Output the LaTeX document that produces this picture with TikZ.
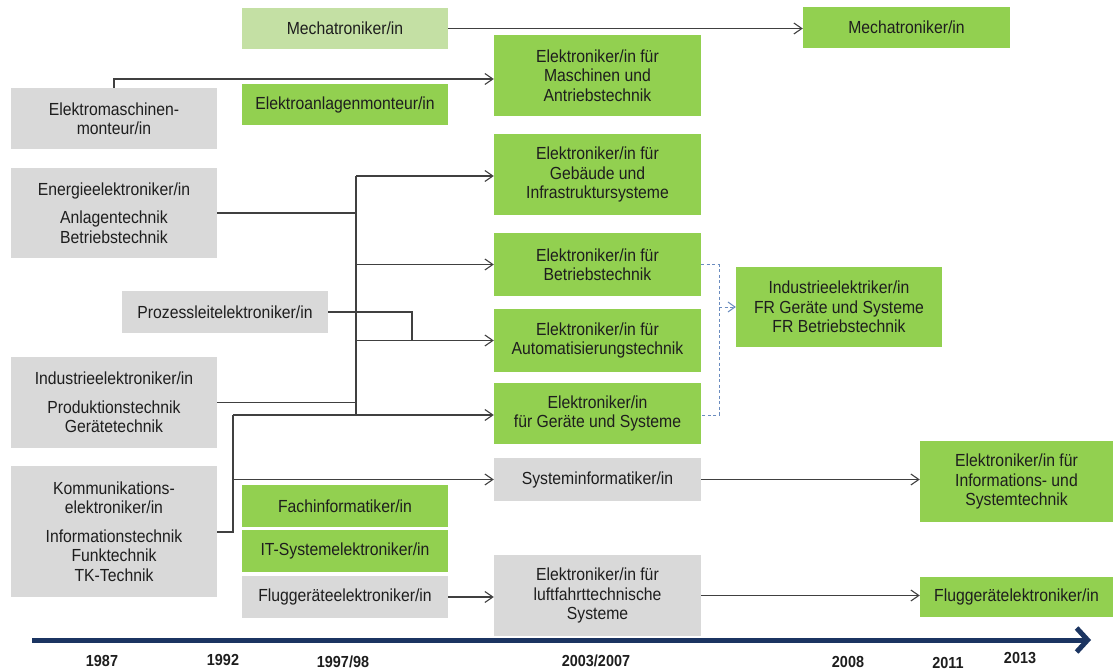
\documentclass[tikz,border=0pt]{standalone}
\usepackage{fontspec}
\setmainfont{Liberation Sans}[FakeStretch=0.9]
\usetikzlibrary{arrows.meta}
\definecolor{boxgreen}{HTML}{92D050}
\definecolor{lightgreen}{HTML}{C4E0A4}
\definecolor{boxgray}{HTML}{D9D9D9}
\definecolor{txt}{HTML}{1E1E1E}
\definecolor{linec}{HTML}{404040}
\definecolor{navy}{HTML}{1B3461}
\definecolor{dashc}{HTML}{6A8CBF}
\begin{document}
\begin{tikzpicture}[x=1pt,y=-1pt,
  box/.style={inner sep=0pt, minimum width=206pt, align=center, text=txt, font=\fontsize{17.5}{19.5}\selectfont},
  gbox/.style={box, fill=boxgreen},
  lbox/.style={box, fill=lightgreen},
  ybox/.style={box, fill=boxgray},
  conn/.style={draw=linec, line width=1.2pt},
  thickconn/.style={draw=linec, line width=2.6pt},
  arr/.style={conn, -{Straight Barb[length=8pt,width=11pt,line width=1.1pt]}},
  dashline/.style={draw=dashc, line width=1pt, dash pattern=on 3pt off 2.5pt},
  dasharr/.style={dashline, -{Straight Barb[length=7pt,width=10pt,line width=1pt]}},
  year/.style={font=\bfseries\fontsize{16}{18}\selectfont, text=txt, inner sep=0pt},
]
\useasboundingbox[fill=white] (0,0) rectangle (1114,671);

% boxes
\node[lbox, minimum height=41pt] (mechaL) at (345,28.5) {Mechatroniker/in};
\node[gbox, minimum width=207pt, minimum height=41pt] (mechaR) at (906.5,27.5) {Mechatroniker/in};
\node[gbox, minimum width=207pt, minimum height=81pt] (maschinen) at (597.5,75.5) {Elektroniker/in für\\Maschinen und\\Antriebstechnik};
\node[ybox, minimum height=61pt] (elmasch) at (114,118.5) {Elektromaschinen-\\monteur/in};
\node[gbox, minimum height=41pt] (elanlagen) at (345,104.5) {Elektroanlagenmonteur/in};
\node[gbox, minimum width=207pt, minimum height=81pt] (gebaeude) at (597.5,174.5) {Elektroniker/in für\\Gebäude und\\Infrastruktursysteme};
\node[ybox, minimum height=90pt] (energie) at (114,213) {Energieelektroniker/in\\[9pt]Anlagentechnik\\Betriebstechnik};
\node[gbox, minimum width=207pt, minimum height=63pt] (betrieb) at (597.5,264.5) {Elektroniker/in für\\Betriebstechnik};
\node[ybox, minimum height=42pt] (prozess) at (225,312) {Prozessleitelektroniker/in};
\node[gbox, minimum width=207pt, minimum height=63pt] (autom) at (597.5,340.5) {Elektroniker/in für\\Automatisierungstechnik};
\node[ybox, minimum height=91pt] (industrie) at (114,402.5) {Industrieelektroniker/in\\[9pt]Produktionstechnik\\Gerätetechnik};
\node[gbox, minimum width=207pt, minimum height=61pt] (geraete) at (597.5,413.5) {Elektroniker/in\\für Geräte und Systeme};
\node[gbox, minimum height=80pt] (indelektriker) at (839,307) {Industrieelektriker/in\\FR Geräte und Systeme\\FR Betriebstechnik};
\node[ybox, minimum height=131pt] (kommun) at (114,531.5) {Kommunikations-\\elektroniker/in\\[9pt]Informationstechnik\\Funktechnik\\TK-Technik};
\node[ybox, minimum width=207pt, minimum height=43pt] (sysinf) at (597.5,479.5) {Systeminformatiker/in};
\node[gbox, minimum width=193pt, minimum height=81pt] (infosys) at (1016.5,481.5) {Elektroniker/in für\\Informations- und\\Systemtechnik};
\node[gbox, minimum height=42pt] (fachinf) at (345,506) {Fachinformatiker/in};
\node[gbox, minimum height=42pt] (itsys) at (345,551) {IT-Systemelektroniker/in};
\node[ybox, minimum height=42pt] (flugg) at (345,597) {Fluggeräteelektroniker/in};
\node[ybox, minimum width=207pt, minimum height=81pt] (luftfahrt) at (597.5,595.5) {Elektroniker/in für\\luftfahrttechnische\\Systeme};
\node[gbox, minimum width=193pt, minimum height=40pt] (fluggR) at (1016.5,597) {Fluggerätelektroniker/in};

% junction coordinates
\coordinate (j1) at (114,79);
\coordinate (busT) at (356,176);
\coordinate (busB) at (356,415);
\coordinate (pz) at (412,312);
\coordinate (bus2T) at (233,415);
\coordinate (bus2B) at (233,532);
\coordinate (dT) at (719,265);
\coordinate (dB) at (719,415);

% connectors
\draw[arr] (mechaL.east) -- (mechaL.east -| mechaR.west);
\draw[arr] (elmasch.north) -- (j1) -- (j1 -| maschinen.west);
\draw[conn] (busT) -- (busB);
\draw[thickconn] (energie.east) -- (energie.east -| busT);
\draw[arr] (busT) -- (busT -| gebaeude.west);
\draw[arr] (busT |- betrieb.west) -- (betrieb.west);
\draw[conn] (prozess.east) -- (pz) -- (pz |- autom.west);
\draw[arr] (busT |- autom.west) -- (autom.west);
\draw[conn] (industrie.east) -- (industrie.east -| busT);
\draw[arr] (bus2T) -- (bus2T -| geraete.west);
\draw[conn] (bus2T) -- (bus2B) -- (bus2B -| kommun.east);
\draw[arr] (bus2T |- sysinf.west) -- (sysinf.west);
\draw[arr] (sysinf.east) -- (sysinf.east -| infosys.west);
\draw[arr] (flugg.east) -- (flugg.east -| luftfahrt.west);
\draw[arr] (luftfahrt.east) -- (luftfahrt.east -| fluggR.west);
\draw[dashline] (dT -| betrieb.east) -- (dT) -- (dB) -- (dB -| geraete.east);
\draw[dasharr] (dT |- indelektriker.west) -- (indelektriker.west);

% timeline
\coordinate (tlA) at (32,640);
\coordinate (tlB) at (1091,640);
\draw[navy, line width=5pt, -{Straight Barb[length=11pt,width=24pt]}] (tlA) -- (tlB);

\node[year] (y1987) at (102,661) {1987};
\node[year] (y1992) at (223,660) {1992};
\node[year] (y1997) at (343,662) {1997/98};
\node[year] (y2003) at (596,661) {2003/2007};
\node[year] (y2008) at (848,662) {2008};
\node[year] (y2011) at (948,663) {2011};
\node[year] (y2013) at (1020,658) {2013};
\end{tikzpicture}
\end{document}
